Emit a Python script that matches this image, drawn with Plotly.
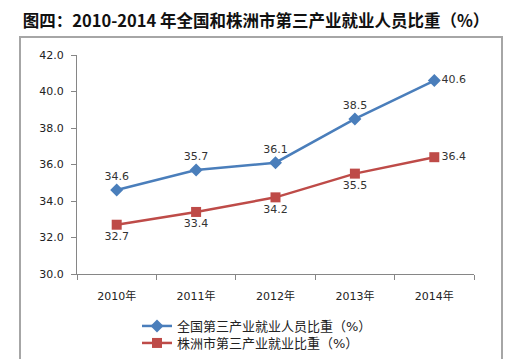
import plotly.graph_objects as go

years = ["2010年", "2011年", "2012年", "2013年", "2014年"]
national = [34.6, 35.7, 36.1, 38.5, 40.6]
zhuzhou = [32.7, 33.4, 34.2, 35.5, 36.4]
name_national = "全国第三产业就业人员比重（%）"
name_zhuzhou = "株洲市第三产业就业比重（%）"
title = "图四：2010-2014 年全国和株洲市第三产业就业人员比重（%）"

font_family = "DejaVu Sans, Noto Sans CJK SC, sans-serif"
blue = "#4A7EBB"
red = "#BE4B48"
W, H = 512.0, 359.0

fig = go.Figure()
# empty trace that only carries the outer frame axes
fig.add_trace(go.Scatter(x=[], y=[], xaxis="x2", yaxis="y2", showlegend=False,
                         hoverinfo="skip"))
fig.add_trace(go.Scatter(
    x=years, y=national, name=name_national, mode="lines+markers+text",
    line=dict(color=blue, width=2.5),
    marker=dict(symbol="diamond", size=10, color=blue),
    text=[f"{v:.1f}" for v in national],
    textposition=["top center"] * 4 + ["middle right"],
    textfont=dict(size=11, color="#333333"),
    cliponaxis=False, legend="legend",
))
fig.add_trace(go.Scatter(
    x=years, y=zhuzhou, name=name_zhuzhou, mode="lines+markers+text",
    line=dict(color=red, width=2.5),
    marker=dict(symbol="square", size=10, color=red),
    text=[f"{v:.1f}" for v in zhuzhou],
    textposition=["bottom center"] * 4 + ["middle right"],
    textfont=dict(size=11, color="#333333"),
    cliponaxis=False, legend="legend2",
))

legend_common = dict(xanchor="left", yanchor="top", orientation="v",
                     font=dict(size=13, color="#222222"), itemwidth=30,
                     bgcolor="rgba(0,0,0,0)")
frame_axis = dict(showline=True, linecolor="#A6A6A6", linewidth=1.5, showgrid=False,
                  zeroline=False, showticklabels=False, ticks="", fixedrange=True)

fig.update_layout(
    width=W, height=H,
    margin=dict(l=0, r=0, t=0, b=0, autoexpand=False),
    paper_bgcolor="white", plot_bgcolor="rgba(0,0,0,0)",
    font=dict(family=font_family, size=11, color="#222222"),
    title=dict(text=f"<b>{title}</b>", x=0.5, xanchor="center", y=1 - 21 / H, yanchor="middle",
               font=dict(size=16.5, color="#111111", family="Noto Sans CJK SC, sans-serif")),
    showlegend=True,
    legend=dict(x=137 / W, y=1 - 311 / H, **legend_common),
    legend2=dict(x=137 / W, y=1 - 328 / H, **legend_common),
    xaxis=dict(domain=[77 / W, 474 / W], range=[-0.5, 4.5], showgrid=False,
               showline=True, linecolor="#868686", linewidth=1,
               ticks="outside", tickson="boundaries", ticklen=5, tickcolor="#868686",
               ticklabelstandoff=12,
               tickfont=dict(size=11, color="#222222")),
    yaxis=dict(domain=[1 - 274 / H, 1 - 55 / H], range=[30, 42], dtick=2, tickformat=".1f",
               showgrid=False, showline=True, linecolor="#868686", linewidth=1,
               ticks="outside", ticklen=5, tickcolor="#868686",
               ticklabelstandoff=5,
               tickfont=dict(size=11, color="#222222"), zeroline=False),
    xaxis2=dict(domain=[21 / W, 501 / W], anchor="y2", side="top", range=[0, 1], **frame_axis),
    yaxis2=dict(domain=[0, 1 - 38 / H], anchor="x2", mirror=True, range=[0, 1], **frame_axis),
)

fig.write_html("out.html", post_script="document.body.style.margin='0';",
               config={"displayModeBar": False})
